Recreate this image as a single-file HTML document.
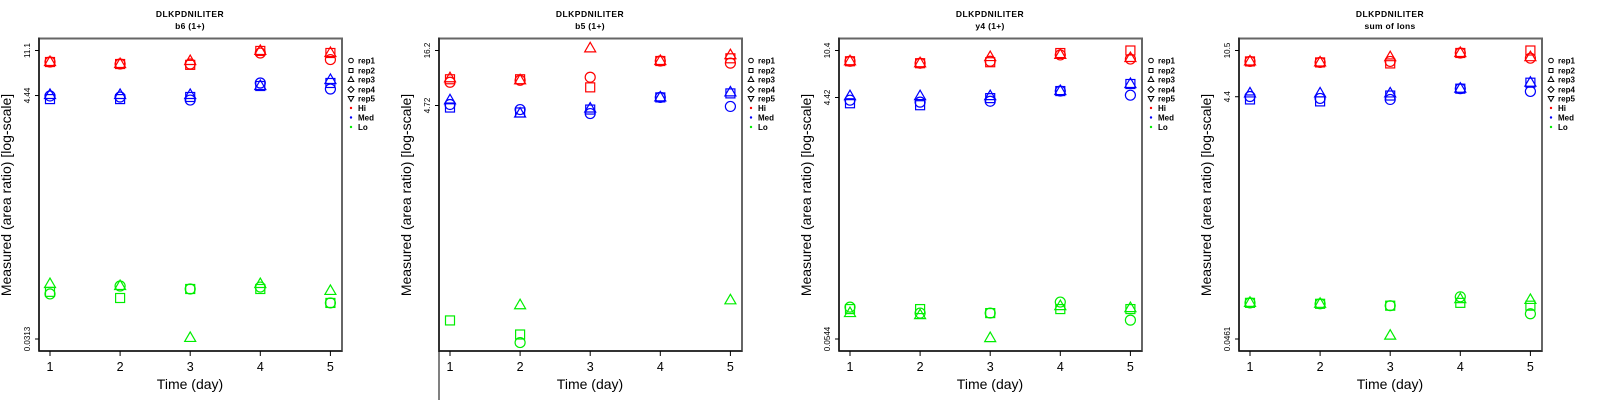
<!DOCTYPE html>
<html><head><meta charset="utf-8">
<style>
html,body{margin:0;padding:0;background:#fff;}
svg{display:block;font-family:"Liberation Sans",sans-serif;}
</style></head>
<body>
<svg id="chart" width="1600" height="400" viewBox="0 0 1600 400" xmlns="http://www.w3.org/2000/svg"></svg>
<script>
// ---- data ----
const days = [1,2,3,4,5];
const panelTitles = ["b6 (1+)","b5 (1+)","y4 (1+)","sum of Ions"];
const peptide = "DLKPDNILITER";
const tickValues = [[11.1,4.44,0.0313],[16.2,4.72],[10.4,4.42,0.0544],[10.5,4.4,0.0461]];
const tickLabels = [["11.1","4.44","0.0313"],["16.2","4.72"],["10.4","4.42","0.0544"],["10.5","4.4","0.0461"]];
const groups = ["Hi","Med","Lo"];
const reps = ["rep1","rep2","rep3","rep4","rep5"];
// values[panel][group][rep] = per-day values (rep1 circle, rep2 square, rep3 triangle)
const p1Hi  = [[8.78,8.43,8.43,10.55,9.23],[8.78,8.43,8.29,11.0,10.55],[8.78,8.43,8.96,11.0,10.55]];
const p1Med = [[4.40,4.31,4.05,5.73,5.07],[4.13,4.13,4.31,5.39,5.73],[4.49,4.49,4.49,5.39,6.09]];
const p1Lo  = [[0.0783,0.0920,0.0866,0.0901,0.0652],[0.0817,0.0721,0.0866,0.0866,0.0652],[0.0958,0.0920,0.0320,0.0958,0.0832]];
const p2Hi  = [[7.95,8.3,8.9,12.8,12.2],[8.5,8.5,7.09,12.8,13.6],[8.7,8.3,17.0,12.8,14.6]];
const p2Med = [[4.83,4.31,3.94,5.66,4.62],[4.51,4.04,4.31,5.66,6.19],[5.30,3.94,4.41,5.66,6.33]];
const p2Lo  = [[null,0.0232,null,null,null],[0.0381,0.0278,null,null,null],[null,0.0536,null,null,0.0598]];
const p3Hi  = [[8.55,8.25,8.55,9.59,8.90],[8.55,8.25,8.40,9.93,10.4],[8.55,8.25,9.23,9.59,9.07]];
const p3Med = [[4.21,4.06,4.13,4.97,4.61],[3.98,3.84,4.37,4.97,5.65],[4.53,4.53,4.53,4.97,5.65]];
const p3Lo  = [[0.0972,0.0872,0.0872,0.1066,0.0767],[0.0938,0.0938,0.0872,0.0938,0.0938],[0.0872,0.0840,0.0553,0.0990,0.0955]];
const p4Hi  = [[8.55,8.39,8.55,10.02,9.09],[8.55,8.39,8.23,10.02,10.5],[8.55,8.39,9.26,10.02,9.26]];
const p4Med = [[4.42,4.26,4.18,5.12,4.86],[4.18,4.03,4.50,5.12,5.73],[4.68,4.68,4.68,5.12,5.73]];
const p4Lo  = [[0.0910,0.0894,0.0863,0.102,0.0741],[0.0910,0.0894,0.0863,0.0910,0.0863],[0.0910,0.0894,0.0491,0.0976,0.0961]];
const panelData = [[p1Hi,p1Med,p1Lo],[p2Hi,p2Med,p2Lo],[p3Hi,p3Med,p3Lo],[p4Hi,p4Med,p4Lo]];

// ---- layout ----
const NS="http://www.w3.org/2000/svg";
const svg=document.getElementById('chart');
const colors=["#ff0000","#0000ff","#00ee00"];
const L=39,R=342,T=38.5,B=351,yTopTick=50.5;
const yRefTick=[339,105.5,339,339]; // pixel of last tick per panel
function mk(tag,attrs,parent){const e=document.createElementNS(NS,tag);for(const k in attrs)e.setAttribute(k,attrs[k]);(parent||svg).appendChild(e);return e;}
function xScale(ox,d){return ox+50+(d-1)*70.1;}
function makeY(pi){
  const tv=tickValues[pi];const top=Math.log(tv[0]);const ref=Math.log(tv[tv.length-1]);
  const k=(yRefTick[pi]-yTopTick)/(top-ref);
  return v=>yTopTick+(top-Math.log(v))*k;
}
function marker(g,shape,x,y,c){
  let e;
  if(shape===0){e=mk('circle',{cx:x,cy:y,r:5,fill:'none',stroke:c,'stroke-width':1.2},g);}
  else if(shape===1){e=mk('rect',{x:x-4.5,y:y-4.5,width:9,height:9,fill:'none',stroke:c,'stroke-width':1.2},g);}
  else if(shape===2){e=mk('polygon',{points:`${x},${y-6} ${x-5.5},${y+3.5} ${x+5.5},${y+3.5}`,fill:'none',stroke:c,'stroke-width':1.2},g);}
  return e;
}
panelData.forEach((pd,pi)=>{
  const ox=pi*400;
  const g=mk('g',{});
  
  
  const y=makeY(pi);
  let t=mk('text',{x:ox+190,y:17,'text-anchor':'middle','font-size':8.5,'font-weight':'bold','letter-spacing':'0.5'},g);t.textContent=peptide;
  
  t=mk('text',{x:ox+190,y:29,'text-anchor':'middle','font-size':8.5,'font-weight':'bold','letter-spacing':'0.3'},g);t.textContent=panelTitles[pi];
  
  // frame
  let f=mk('rect',{x:ox+L,y:T,width:R-L,height:B-T,fill:'none',stroke:'#666','stroke-width':2},g);
  
  mk('line',{x1:ox+L,y1:T-1,x2:ox+L,y2:pi===1?400:B,stroke:'#000','stroke-width':1},g);
  mk('line',{x1:ox+L,y1:B,x2:ox+R,y2:B,stroke:'#000','stroke-width':1},g);
  // y ticks
  tickValues[pi].forEach((v,i)=>{
    const yy=y(v);
    mk('line',{x1:ox+L-4,y1:yy,x2:ox+L,y2:yy,stroke:'#000','stroke-width':1},g);
    const tl=mk('text',{x:0,y:0,transform:`translate(${ox+30},${yy}) rotate(-90)`,'text-anchor':'middle','font-size':8},g);
    tl.textContent=tickLabels[pi][i];
    
  });
  // x ticks
  days.forEach(d=>{
    const xx=xScale(ox,d);
    mk('line',{x1:xx,y1:B,x2:xx,y2:B+5,stroke:'#000','stroke-width':1},g);
    const tl=mk('text',{x:xx,y:371,'text-anchor':'middle','font-size':12.5},g);tl.textContent=d;
    
  });
  let xl=mk('text',{x:ox+190,y:389,'text-anchor':'middle','font-size':14},g);xl.textContent="Time (day)";
  
  let yl=mk('text',{x:0,y:0,transform:`translate(${ox+11},195) rotate(-90)`,'text-anchor':'middle','font-size':14},g);yl.textContent="Measured (area ratio) [log-scale]";
  
  // points
  pd.forEach((grp,gi)=>{
    grp.forEach((series,ri)=>{
      series.forEach((v,di)=>{
        if(v==null)return;
        const m=marker(g,ri,xScale(ox,days[di]),y(v),colors[gi]);
        
        
      });
    });
  });
  // legend
  const lg=mk('g',{},g);
  
  const rowsY=[60.5,70.5,79.5,89.5,98.5,108,117.5,127];
  const labels=reps.concat(groups);
  labels.forEach((lab,i)=>{
    const ly=rowsY[i],lx=ox+351;
    if(i===0)mk('circle',{cx:lx,cy:ly,r:2.3,fill:'none',stroke:'#000','stroke-width':1},lg);
    else if(i===1)mk('rect',{x:lx-2,y:ly-2,width:4,height:4,fill:'none',stroke:'#000','stroke-width':1},lg);
    else if(i===2)mk('polygon',{points:`${lx},${ly-3} ${lx-2.8},${ly+2} ${lx+2.8},${ly+2}`,fill:'none',stroke:'#000','stroke-width':1},lg);
    else if(i===3)mk('polygon',{points:`${lx},${ly-3} ${lx+3},${ly} ${lx},${ly+3} ${lx-3},${ly}`,fill:'none',stroke:'#000','stroke-width':1},lg);
    else if(i===4)mk('polygon',{points:`${lx},${ly+3} ${lx-2.8},${ly-2} ${lx+2.8},${ly-2}`,fill:'none',stroke:'#000','stroke-width':1},lg);
    else mk('circle',{cx:lx,cy:ly,r:1.2,fill:colors[i-5]},lg);
    const tx=mk('text',{x:lx+7,y:ly+3,'font-size':8,'font-weight':'bold'},lg);tx.textContent=lab;
    
  });
});
</script>
</body></html>
